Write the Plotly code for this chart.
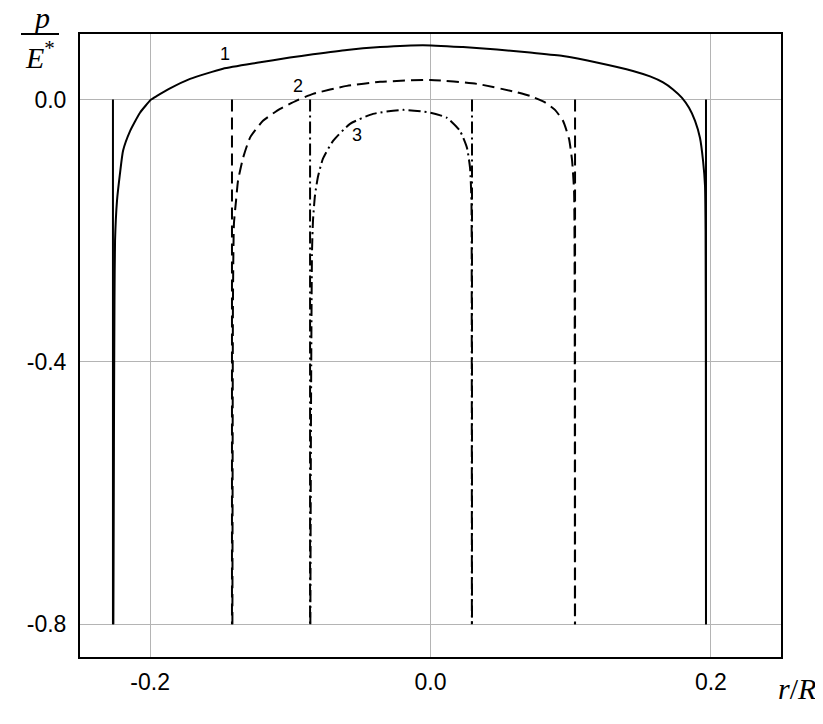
import plotly.graph_objects as go

# ---- data ----
curve1_x = [-0.2262, -0.2259, -0.2257, -0.2254, -0.2250, -0.2236, -0.2215, -0.2193, -0.2143, -0.2072,
            -0.1993, -0.1951, -0.1858, -0.1715, -0.1480, -0.1238, -0.1003, -0.0838, -0.0596, -0.0360,
            -0.0054, 0.0232, 0.0474, 0.0710, 0.0945, 0.1202, 0.1444, 0.1566, 0.1659, 0.1730,
            0.1794, 0.1844, 0.1887, 0.1922, 0.1944, 0.1958, 0.1962, 0.1964, 0.1965]
curve1_y = [-0.800, -0.600, -0.459, -0.306, -0.215, -0.154, -0.113, -0.078, -0.048, -0.020,
            0.000, 0.0056, 0.017, 0.0315, 0.047, 0.056, 0.064, 0.069, 0.0757, 0.080,
            0.083, 0.080, 0.0765, 0.0716, 0.0665, 0.0559, 0.0437, 0.0353, 0.0262, 0.0155,
            0.0026, -0.0126, -0.0324, -0.0583, -0.0933, -0.1314, -0.200, -0.400, -0.800]

curve2_x = [-0.1413, -0.1411, -0.1409, -0.1402, -0.1387, -0.1373, -0.1337, -0.1287, -0.1195, -0.1073,
            -0.0952, -0.0838, -0.0596, -0.0360, 0.0000, 0.0332, 0.0588, 0.0710, 0.0817, 0.0888,
            0.0945, 0.0988, 0.1010, 0.1024, 0.1027, 0.1029, 0.1030]
curve2_y = [-0.800, -0.500, -0.306, -0.189, -0.154, -0.124, -0.089, -0.058, -0.0324, -0.0142,
            -0.0012, 0.0087, 0.0209, 0.027, 0.030, 0.0239, 0.0125, 0.0056, -0.0043, -0.0157,
            -0.0324, -0.0598, -0.0933, -0.139, -0.200, -0.400, -0.800]

curve3_x = [-0.0857, -0.0852, -0.0845, -0.0838, -0.0824, -0.0802, -0.0767, -0.0695, -0.0574, -0.0410,
            -0.0196, 0.0000, 0.0118, 0.0210, 0.0260, 0.0282, 0.0292, 0.0294, 0.0295]
curve3_y = [-0.800, -0.459, -0.230, -0.184, -0.146, -0.117, -0.090, -0.063, -0.037, -0.0218,
            -0.0157, -0.020, -0.0279, -0.0476, -0.0735, -0.104, -0.154, -0.300, -0.800]

edges_left = [-0.2265, -0.1416, -0.0859]
edges_right = [0.1965, 0.1031, 0.0296]
edge_top = 0.0
edge_bottom = -0.8

curve_labels = ["1", "2", "3"]
label_x = [-0.1465, -0.0945, -0.0525]
label_y = [0.070, 0.021, -0.054]

x_ticks = [-0.2, 0.0, 0.2]
x_ticktext = ["-0.2", "0.0", "0.2"]
y_ticks = [0.0, -0.4, -0.8]
y_ticktext = ["0.0", "-0.4", "-0.8"]

# ---- styles ----
dashes = ["solid", "12px,6px", "12px,4px,2px,4px"]
curves = [(curve1_x, curve1_y), (curve2_x, curve2_y), (curve3_x, curve3_y)]

# page body has an 8px margin in the browser; plot area target: x 80..781, y 34..657 on page
FW, FH = 815, 716
PL, PT, PW, PH = 72, 26, 701, 623

fig = go.Figure()
for i, (cx, cy) in enumerate(curves):
    fig.add_trace(go.Scatter(x=cx, y=cy, mode="lines", line=dict(color="black", width=2, dash=dashes[i]),
                             line_shape="spline", line_smoothing=0.5,
                             showlegend=False, hoverinfo="skip"))
    for ex in (edges_left[i], edges_right[i]):
        fig.add_trace(go.Scatter(x=[ex, ex], y=[edge_top, edge_bottom], mode="lines",
                                 line=dict(color="black", width=2, dash=dashes[i]),
                                 showlegend=False, hoverinfo="skip"))

for t, lx, ly in zip(curve_labels, label_x, label_y):
    fig.add_annotation(x=lx, y=ly, text=t, showarrow=False, xanchor="center", yanchor="middle",
                       font=dict(family="Liberation Sans, Arial", size=18, color="black"))


def px_x(p):  # page pixel x -> paper x
    return (p - 80) / PW


def px_y(p):  # page pixel y -> paper y
    return (657 - p) / PH


serif = dict(family="Liberation Serif, Times New Roman", size=30, color="black")
fig.add_annotation(xref="paper", yref="paper", x=px_x(797), y=px_y(688), xanchor="center", yanchor="middle",
                   text="<i>r</i>/<i>R</i>", showarrow=False, font=serif)
fig.add_annotation(xref="paper", yref="paper", x=px_x(41), y=px_y(17), xanchor="center", yanchor="middle",
                   text="<i>p</i>", showarrow=False, font=serif)
fig.add_annotation(xref="paper", yref="paper", x=px_x(40), y=px_y(55), xanchor="center", yanchor="middle",
                   text="<i>E</i><sup>*</sup>", showarrow=False, font=serif)
fig.add_shape(type="line", xref="paper", yref="paper",
              x0=px_x(21), x1=px_x(59), y0=px_y(34), y1=px_y(34),
              line=dict(color="black", width=2))

fig.update_xaxes(range=[-0.25, 0.25], tickvals=x_ticks, ticktext=x_ticktext,
                 showgrid=True, gridcolor="#b4b4b4", gridwidth=1, zeroline=False,
                 showline=True, linecolor="black", linewidth=2, mirror=True,
                 ticks="", ticklabelstandoff=3,
                 tickfont=dict(family="Liberation Sans, Arial", size=23, color="black"))
fig.update_yaxes(range=[-0.85, 0.1], tickvals=y_ticks, ticktext=y_ticktext,
                 showgrid=True, gridcolor="#b4b4b4", gridwidth=1, zeroline=False,
                 showline=True, linecolor="black", linewidth=2, mirror=True,
                 ticks="", ticklabelstandoff=7,
                 tickfont=dict(family="Liberation Sans, Arial", size=23, color="black"))

fig.update_layout(width=FW, height=FH,
                  margin=dict(l=PL, r=FW - PL - PW, t=PT, b=FH - PT - PH),
                  plot_bgcolor="white", paper_bgcolor="white", showlegend=False)

fig.write_html("out.html")
